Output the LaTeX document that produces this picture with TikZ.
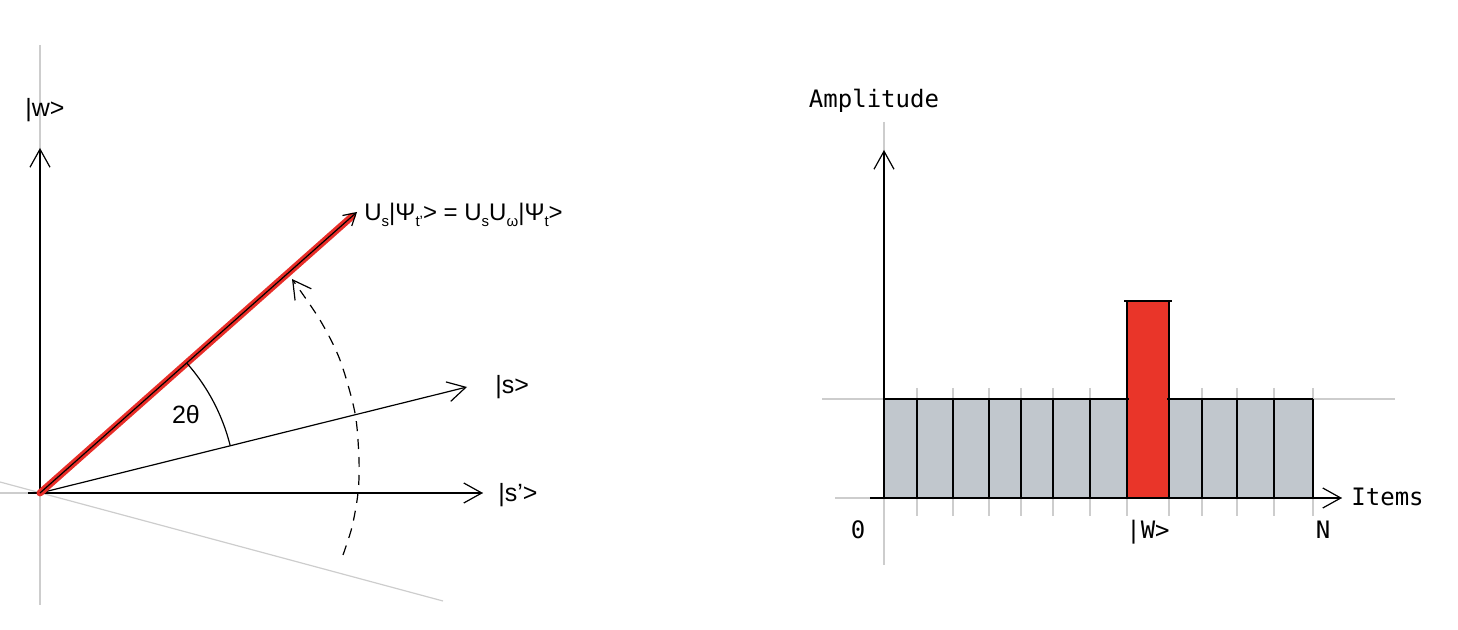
\documentclass[tikz,border=0pt]{standalone}
\usepackage{fontspec}
\setmainfont{Liberation Sans}
\newfontfamily\monofont{DejaVu Sans Mono}
\usetikzlibrary{arrows.meta,calc}
\definecolor{guide}{RGB}{205,205,205}
\definecolor{barfill}{RGB}{193,199,205}
\definecolor{redbar}{RGB}{233,53,41}
\definecolor{vecred}{RGB}{232,45,40}
\newcommand{\lowsub}[1]{\raisebox{-0.45ex}{\fontsize{7.5}{8}\selectfont #1}}
\begin{document}
\begin{tikzpicture}[x=0.5pt,y=-0.5pt,
  guideline/.style={guide, line width=0.6pt},
  thinline/.style={black, line width=0.6pt},
  openarrow/.style={-{Straight Barb[length=9pt,width=10pt,line width=0.6pt]}},
  axisline/.style={thinline, openarrow},
  smallarrow/.style={-{Straight Barb[length=6pt,width=7pt,line width=0.6pt]}},
  leftlabel/.style={font=\fontsize{12.5}{15}\selectfont, inner sep=0pt},
  monolabel/.style={font=\monofont\fontsize{12}{14}\selectfont, inner sep=0pt},
  divider/.style={black, line width=0.7pt},
  dashedarc/.style={black, line width=0.6pt, dash pattern=on 5pt off 4pt}
]
\useasboundingbox (0,0) rectangle (1458,630);

% ---------- left diagram ----------
\coordinate (O) at (40,493);
\coordinate (gtop) at (40,45);
\coordinate (gbot) at (40,605);
\coordinate (gleft) at (0,493);
\coordinate (rstart) at (0,482);
\coordinate (rend) at (443,601);
\coordinate (wtip) at (40,148);
\coordinate (xstart) at (28,493);
\coordinate (sptip) at (483,493);
\coordinate (stip) at (467,387);
\coordinate (vtip) at (357,212);

\draw[guideline] (gtop) -- (gbot);
\draw[guideline] (gleft) -- (sptip);
\draw[guideline] (rstart) -- (rend);

\draw[axisline] (O) -- (wtip);
\draw[axisline] (xstart) -- (sptip);
\draw[axisline] (O) -- (stip);

\draw[vecred, line width=3.5pt, line cap=round] (O) -- ($(O)!0.985!(vtip)$);
\draw[thinline, smallarrow] (O) -- (vtip);

\draw[thinline] plot[domain=14:41.5, samples=40] ({40+196*cos(\x)},{493-196*sin(\x)});
\draw[dashedarc, openarrow] plot[smooth] coordinates {(343,555) (352,527) (358,493) (359,460) (355,413) (340,360) (320,320) (292,279)};

\node[leftlabel, anchor=west] (wlab) at (25,110) {|w>};
\node[leftlabel, anchor=west] (slab) at (495,387) {|s>};
\node[leftlabel, anchor=west] (splab) at (498,495) {|s’>};
\node[leftlabel, font=\fontsize{12}{14}\selectfont, anchor=west] (vlab) at (364,215) {U\lowsub{s}|Ψ\lowsub{t’}> = U\lowsub{s}U\lowsub{ω}|Ψ\lowsub{t}>};
\node[leftlabel] (theta) at (186,415) {2θ};

% ---------- right diagram ----------
\coordinate (A) at (884,498);
\coordinate (atop) at (884,122);
\coordinate (abot) at (884,565);
\coordinate (ytip) at (884,150);
\coordinate (hleft) at (835,498);
\coordinate (hstart) at (870,498);
\coordinate (xtip) at (1342,498);
\coordinate (uleft) at (822,399);
\coordinate (uright) at (1395,399);

\draw[guideline] (atop) -- (abot);
\draw[guideline] (hleft) -- (xtip);
\draw[guideline] (uleft) -- (uright);

\fill[barfill] (884,399) rectangle (1313,498);
\fill[redbar] (1127,301) rectangle (1169,498);

\foreach \xx in {917,953,989,1021,1053,1090,1127,1169,1202,1237,1274,1313}{
  \draw[guideline] (\xx,388) -- (\xx,516);
  \draw[divider] (\xx,399) -- (\xx,498);
}
\draw[divider] (1127,301) -- (1127,498);
\draw[divider] (1169,301) -- (1169,498);
\draw[divider] (1124,301) -- (1172,301);
\draw[divider] (884,399) -- (1129,399);
\draw[divider] (1167,399) -- (1313,399);

\draw[axisline] (A) -- (ytip);
\draw[axisline] (hstart) -- (xtip);

\node[monolabel] (amp) at (874,101) {Amplitude};
\node[monolabel, anchor=west] (items) at (1351,497) {Items};
\node[monolabel] (zero) at (858,530) {0};
\node[monolabel] (wlab2) at (1148,532) {|W>};
\node[monolabel] (nlab) at (1323,530) {N};
\end{tikzpicture}
\end{document}
